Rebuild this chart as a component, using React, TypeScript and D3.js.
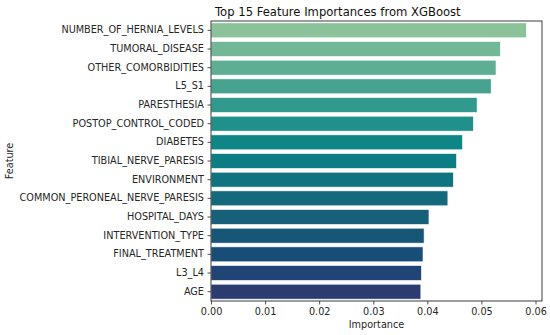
//@ts-nocheck
import React, { useRef, useEffect } from 'react'
import * as d3 from 'd3'

const features = [
  'NUMBER_OF_HERNIA_LEVELS',
  'TUMORAL_DISEASE',
  'OTHER_COMORBIDITIES',
  'L5_S1',
  'PARESTHESIA',
  'POSTOP_CONTROL_CODED',
  'DIABETES',
  'TIBIAL_NERVE_PARESIS',
  'ENVIRONMENT',
  'COMMON_PERONEAL_NERVE_PARESIS',
  'HOSPITAL_DAYS',
  'INTERVENTION_TYPE',
  'FINAL_TREATMENT',
  'L3_L4',
  'AGE'
]

const importances = [
  0.0583, 0.0535, 0.0527, 0.0518, 0.0492, 0.0485, 0.0465, 0.0454, 0.0448, 0.0438, 0.0403, 0.0394,
  0.0392, 0.0389, 0.0388
]

// crest-like palette, light green at top to navy at bottom
const barColors = [
  '#8cc29a',
  '#73b896',
  '#5dae93',
  '#47a390',
  '#31998d',
  '#1f908a',
  '#0e8686',
  '#0b7d83',
  '#0f7480',
  '#146a7c',
  '#166079',
  '#175677',
  '#184d78',
  '#214477',
  '#2c3b70'
]

const xTicks = [0, 0.01, 0.02, 0.03, 0.04, 0.05, 0.06]

const WIDTH = 550
const HEIGHT = 335

export default function App() {
  const node = useRef<SVGSVGElement | null>(null)

  useEffect(() => {
    const svg = d3.select(node.current)
    svg.selectAll('*').remove()
    svg.attr('width', WIDTH).attr('height', HEIGHT)

    const margin = { top: 21, right: 8, bottom: 34, left: 211 }
    const font = 'DejaVu Sans, sans-serif'
    const textColor = '#262626'

    const x = d3
      .scaleLinear()
      .domain([0, 0.0612])
      .range([margin.left, WIDTH - margin.right])

    const y = d3
      .scaleBand()
      .domain(features)
      .range([margin.top, HEIGHT - margin.bottom])
      .paddingInner(0.2)
      .paddingOuter(0.1)

    svg.append('rect').attr('width', WIDTH).attr('height', HEIGHT).attr('fill', '#fff')

    svg
      .append('g')
      .selectAll('rect')
      .data(features)
      .join('rect')
      .attr('x', x(0))
      .attr('y', (d) => y(d))
      .attr('width', (d, i) => x(importances[i]) - x(0))
      .attr('height', y.bandwidth())
      .attr('fill', (d, i) => barColors[i])
      .attr('stroke', '#ffffff')
      .attr('stroke-width', 0.6)

    const xAxis = (g) =>
      g
        .attr('transform', `translate(0,${HEIGHT - margin.bottom})`)
        .call(
          d3
            .axisBottom(x)
            .tickValues(xTicks)
            .tickFormat(d3.format('.2f'))
            .tickSize(3.5)
            .tickPadding(3.5)
            .tickSizeOuter(0)
        )
        .call((g) => g.select('.domain').remove())

    const yAxis = (g) =>
      g
        .attr('transform', `translate(${margin.left},0)`)
        .call(d3.axisLeft(y).tickSize(3.5).tickPadding(3.5).tickSizeOuter(0))
        .call((g) => g.select('.domain').remove())

    svg.append('g').call(xAxis)
    svg.append('g').call(yAxis)

    svg
      .selectAll('.tick text')
      .attr('font-family', font)
      .attr('font-size', 9.7)
      .attr('fill', textColor)
    svg.selectAll('.tick line').attr('stroke', textColor).attr('stroke-width', 0.8)

    // frame
    svg
      .append('rect')
      .attr('x', margin.left)
      .attr('y', margin.top)
      .attr('width', WIDTH - margin.right - margin.left)
      .attr('height', HEIGHT - margin.bottom - margin.top)
      .attr('fill', 'none')
      .attr('stroke', textColor)
      .attr('stroke-width', 0.9)

    svg
      .append('text')
      .attr('x', 215)
      .attr('y', 16)
      .attr('font-family', font)
      .attr('font-size', 11.6)
      .attr('fill', '#111')
      .text('Top 15 Feature Importances from XGBoost')

    svg
      .append('text')
      .attr('x', (margin.left + WIDTH - margin.right) / 2)
      .attr('y', 328)
      .attr('text-anchor', 'middle')
      .attr('font-family', font)
      .attr('font-size', 9.7)
      .attr('fill', textColor)
      .text('Importance')

    svg
      .append('text')
      .attr('transform', `translate(13,${(margin.top + HEIGHT - margin.bottom) / 2}) rotate(-90)`)
      .attr('text-anchor', 'middle')
      .attr('font-family', font)
      .attr('font-size', 9.7)
      .attr('fill', textColor)
      .text('Feature')
  }, [node])

  return <svg ref={node} style={{ position: 'absolute', left: 0, top: 0 }}></svg>
}
